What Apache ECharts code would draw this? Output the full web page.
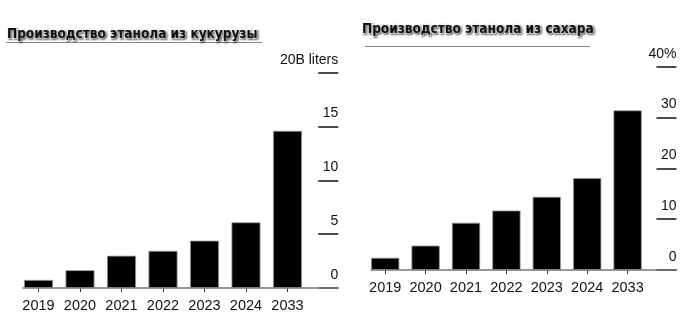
<!DOCTYPE html>
<html>
<head>
<meta charset="utf-8">
<script src="https://cdn.jsdelivr.net/npm/echarts@6/dist/echarts.min.js"></script>
<style>
html,body{margin:0;padding:0;background:#fff;}
#chart{width:699px;height:321px;}
</style>
</head>
<body>
<div id="chart"></div>
<script>
const categories = ['2019', '2020', '2021', '2022', '2023', '2024', '2033'];
const cornValues = [0.75, 1.65, 3.0, 3.45, 4.4, 6.1, 14.6];
const sugarValues = [2.4, 4.8, 9.3, 11.7, 14.4, 18.1, 31.4];
const cornTicks = [0, 5, 10, 15, 20];
const sugarTicks = [0, 10, 20, 30, 40];
const cornTitle = 'Производство этанола из кукурузы';
const sugarTitle = 'Производство этанола из сахара';
const cornUnit = 'B liters';
const sugarUnit = '%';

const chart = echarts.init(document.getElementById('chart'), null, {renderer: 'canvas'});

const labelFont = 'Liberation Sans, Arial, sans-serif';
const titleStyle = {
  fontFamily: 'DejaVu Sans Condensed', fontWeight: 'bold', fontSize: 13.5, color: '#111',
  textBorderColor: '#fff', textBorderWidth: 2,
  textShadowColor: 'rgba(0,0,0,0.5)', textShadowBlur: 2, textShadowOffsetX: 1, textShadowOffsetY: 1
};

function yAx(gridIndex, ticks, unit, offset) {
  const max = ticks[ticks.length - 1];
  return {
    gridIndex, type: 'value', position: 'right', offset,
    min: ticks[0], max, interval: ticks[1] - ticks[0],
    axisLine: {show: false},
    splitLine: {show: false},
    axisTick: {show: true, inside: true, length: 20, lineStyle: {color: '#111', width: 1.5}},
    axisLabel: {
      inside: true, align: 'right', verticalAlign: 'bottom', margin: 0,
      padding: [0, 0, 6, 0],
      fontFamily: labelFont, fontSize: 14, color: '#111',
      formatter: v => v === max ? v + unit : String(v)
    }
  };
}
function xAx(gridIndex) {
  return {
    gridIndex, type: 'category', data: categories,
    axisLine: {show: false},
    axisTick: {show: true, alignWithLabel: true, length: 4, lineStyle: {color: '#333', width: 1}},
    axisLabel: {fontFamily: labelFont, fontSize: 14.5, color: '#111', margin: 10, interval: 0, hideOverlap: false}
  };
}
function baseX(gridIndex) {
  return {
    gridIndex, type: 'category', data: categories, z: 10,
    axisLine: {show: true, lineStyle: {color: '#777', width: 1.5}},
    axisTick: {show: false}, axisLabel: {show: false}
  };
}
function hiddenY(gridIndex) {
  return {gridIndex, type: 'value', show: false};
}

chart.setOption({
  animation: false,
  title: [
    {text: cornTitle, left: 2, top: 22, textStyle: titleStyle},
    {text: sugarTitle, left: 357, top: 17, textStyle: titleStyle}
  ],
  graphic: [
    {type: 'line', shape: {x1: 6, y1: 42.5, x2: 262, y2: 42.5}, style: {stroke: '#888', lineWidth: 1}},
    {type: 'line', shape: {x1: 365, y1: 46.5, x2: 590, y2: 46.5}, style: {stroke: '#888', lineWidth: 1}}
  ],
  grid: [
    {left: 17.75, right: 699 - 308.25, top: 72.7, bottom: 33, containLabel: false},
    {left: 365, right: 699 - 647.8, top: 66.7, bottom: 51, containLabel: false},
    {left: 23, right: 699 - 338.3, top: 72.7, bottom: 33},
    {left: 371, right: 699 - 676.5, top: 66.7, bottom: 51}
  ],
  xAxis: [xAx(0), xAx(1), baseX(2), baseX(3)],
  yAxis: [yAx(0, cornTicks, cornUnit, 30), yAx(1, sugarTicks, sugarUnit, 28.7), hiddenY(2), hiddenY(3)],
  series: [
    {type: 'bar', xAxisIndex: 0, yAxisIndex: 0, data: cornValues, barWidth: 29,
     itemStyle: {color: '#000', borderColor: '#999', borderWidth: 0.8}},
    {type: 'bar', xAxisIndex: 1, yAxisIndex: 1, data: sugarValues, barWidth: 28.3,
     itemStyle: {color: '#000', borderColor: '#999', borderWidth: 0.8}}
  ]
});
</script>
</body>
</html>
